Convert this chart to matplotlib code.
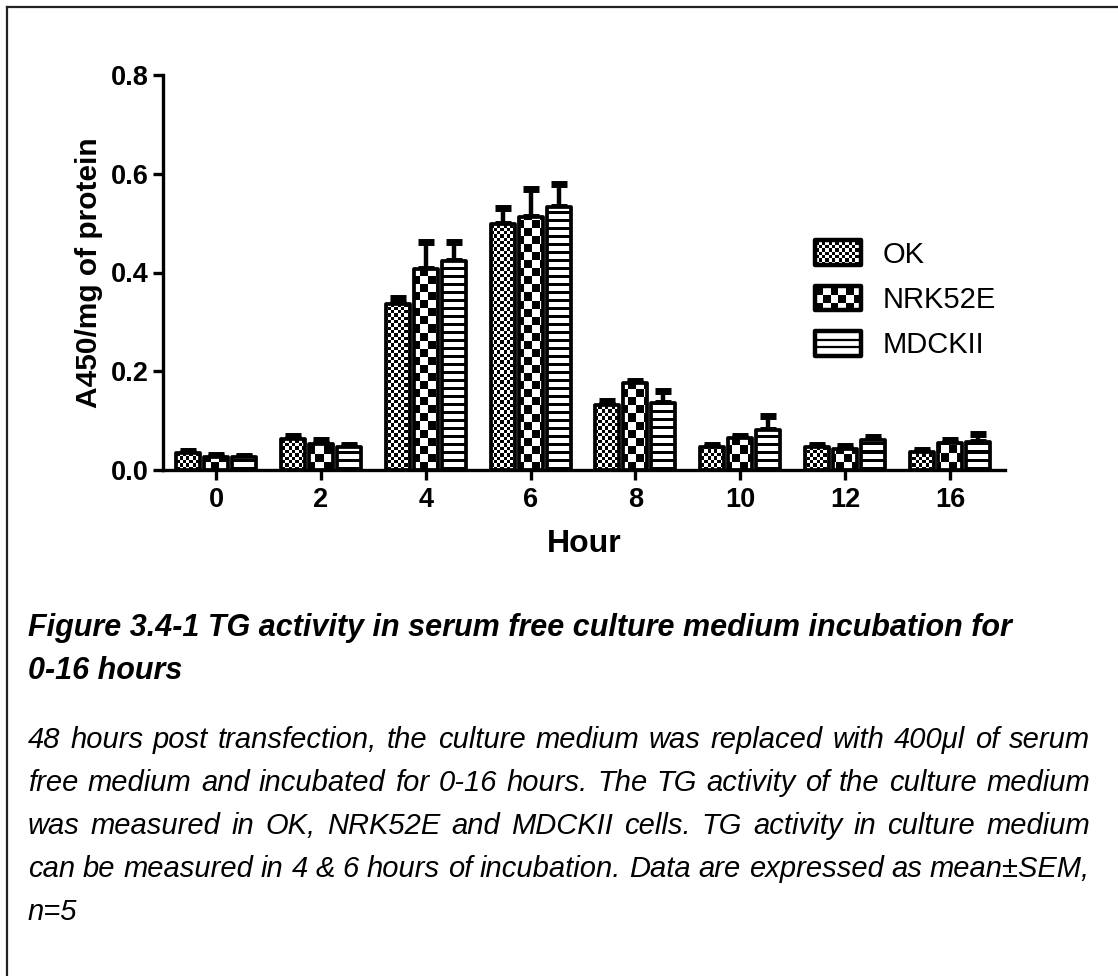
import numpy as np
import matplotlib
matplotlib.use("Agg")
import matplotlib.pyplot as plt
from matplotlib.patches import Rectangle
from matplotlib.legend_handler import HandlerBase
from matplotlib.lines import Line2D

plt.rcParams['font.family'] = ['Liberation Sans', 'DejaVu Sans']

hours = ['0', '2', '4', '6', '8', '10', '12', '16']
series = ['OK', 'NRK52E', 'MDCKII']

ok_mean = [0.035, 0.062, 0.337, 0.498, 0.132, 0.047, 0.046, 0.036]
ok_sem = [0.004, 0.007, 0.012, 0.032, 0.007, 0.004, 0.004, 0.004]
nrk_mean = [0.026, 0.052, 0.408, 0.512, 0.176, 0.064, 0.042, 0.055]
nrk_sem = [0.004, 0.008, 0.054, 0.058, 0.004, 0.005, 0.007, 0.006]
mdck_mean = [0.026, 0.046, 0.423, 0.532, 0.136, 0.082, 0.061, 0.057]
mdck_sem = [0.003, 0.004, 0.039, 0.048, 0.025, 0.027, 0.006, 0.015]

means = [ok_mean, nrk_mean, mdck_mean]
sems = [ok_sem, nrk_sem, mdck_sem]
textures = ['fine', 'coarse', 'lines']

title_lines = ['Figure 3.4-1 TG activity in serum free culture medium incubation for',
               '0-16 hours']
body_lines = ['48 hours post transfection, the culture medium was replaced with 400\u03bcl of serum',
              'free medium and incubated for 0-16 hours. The TG activity of the culture medium',
              'was measured in OK, NRK52E and MDCKII cells. TG activity in culture medium',
              'can be measured in 4 & 6 hours of incubation. Data are expressed as mean\u00b1SEM,',
              'n=5']

W, H = 1118, 976
fig = plt.figure(figsize=(W / 100, H / 100), dpi=100)
ax = fig.add_axes([163 / W, 1 - 470 / H, (1005 - 163) / W, (470 - 75) / H])

XLO, XHI = -0.505, 7.524
YLO, YHI = 0.0, 0.8


def texture(kind):
    # pixel-sized fill pattern covering the whole axes
    wpx, hpx = 842, 395
    if kind == 'lines':
        rows = np.arange(hpx)
        stripe = ((rows % 8) < 3).astype(float)
        return 1 - np.tile(stripe[:, None], (1, 4))
    s = 3.3 if kind == 'fine' else 8.0
    nx, ny = int(wpx / s), int(hpx / s)
    ii, jj = np.indices((ny, nx))
    return ((ii + jj) % 2).astype(float)


x = np.arange(len(hours))
bw = 0.228
offs = [-0.267, 0.0, 0.267]
for k in range(3):
    ax.errorbar(x + offs[k], means[k], yerr=[np.zeros(len(hours)), sems[k]], fmt='none',
                ecolor='black', elinewidth=3.2, capsize=5.5, capthick=5, zorder=2)
    bars = ax.bar(x + offs[k], means[k], bw, facecolor='none', edgecolor='black',
                  linewidth=2.7, joinstyle='round', zorder=3, label=series[k])
    tex = texture(textures[k])
    for b in bars:
        im = ax.imshow(tex, extent=(XLO, XHI, YLO, YHI), cmap='gray', vmin=0, vmax=1,
                       interpolation='nearest', aspect='auto', zorder=2.5)
        im.set_clip_path(b)

ax.set_xlim(XLO, XHI)
ax.set_ylim(YLO, YHI)
ax.set_xticks(x)
ax.set_xticklabels(hours)
ax.set_yticks([0.0, 0.2, 0.4, 0.6, 0.8])
ax.set_yticklabels(['0.0', '0.2', '0.4', '0.6', '0.8'])
for sp in ['top', 'right']:
    ax.spines[sp].set_visible(False)
for sp in ['left', 'bottom']:
    ax.spines[sp].set_linewidth(2.4)
ax.tick_params(axis='both', direction='out', length=7, width=2.4, labelsize=19.5, pad=3)
ax.tick_params(axis='x', pad=5)
for lab in ax.get_xticklabels() + ax.get_yticklabels():
    lab.set_fontweight('bold')
ax.set_xlabel('Hour', fontsize=23, fontweight='bold', labelpad=12)
ax.set_ylabel('A450/mg of protein', fontsize=21.5, fontweight='bold', labelpad=6)


class TextureHandler(HandlerBase):
    def __init__(self, kind):
        super().__init__()
        self.kind = kind

    def create_artists(self, legend, orig_handle, xdescent, ydescent, width, height,
                       fontsize, trans):
        x0, y0 = -xdescent, -ydescent
        arts = []
        if self.kind == 'lines':
            for yy in (0.36, 0.64):
                arts.append(Line2D([x0, x0 + width], [y0 + yy * height] * 2,
                                   color='black', lw=1.6, transform=trans))
        else:
            s = 2.4 if self.kind == 'fine' else 5.5
            nx, ny = int(np.ceil(width / s)), int(np.ceil(height / s))
            for i in range(nx):
                for j in range(ny):
                    if (i + j) % 2 == 0:
                        w = min(s, width - i * s)
                        h = min(s, height - j * s)
                        arts.append(Rectangle((x0 + i * s, y0 + j * s), w, h,
                                              facecolor='black', edgecolor='none',
                                              transform=trans))
        arts.append(Rectangle((x0, y0), width, height, facecolor='none',
                              edgecolor='black', lw=3.2, joinstyle='round', transform=trans))
        return arts


proxies = [Rectangle((0, 0), 1, 1) for _ in series]
ax.legend(proxies, series, handler_map={p: TextureHandler(t) for p, t in zip(proxies, textures)},
          loc='upper left', bbox_to_anchor=((795 - 163) / 842, (470 - 220) / 395),
          frameon=False, fontsize=21, handlelength=1.55, handleheight=0.92,
          handletextpad=0.75, labelspacing=0.58, borderaxespad=0.3)

# page border (top and left only)
fig.add_artist(Line2D([7 / W, 1], [1 - 7 / H] * 2, color='#222222', lw=1.6))
fig.add_artist(Line2D([7 / W] * 2, [0, 1 - 7 / H], color='#222222', lw=1.6))

# caption
ty = [636, 679]
for t, yy in zip(title_lines, ty):
    fig.text(28 / W, 1 - yy / H, t, fontsize=22, fontweight='bold', style='italic',
             va='baseline', ha='left')

renderer = fig.canvas.get_renderer()
by = [748, 791, 834, 877, 920]
left, right = 28, 1090
for n, (line, yy) in enumerate(zip(body_lines, by)):
    if n == len(body_lines) - 1:
        fig.text(left / W, 1 - yy / H, line, fontsize=21, style='italic', va='baseline')
        continue
    words = line.split(' ')
    objs = [fig.text(0, 1 - yy / H, w, fontsize=21, style='italic', va='baseline') for w in words]
    widths = [o.get_window_extent(renderer).width for o in objs]
    gap = (right - left - sum(widths)) / (len(words) - 1)
    pos = left
    for o, w in zip(objs, widths):
        o.set_x(pos / W)
        pos += w + gap

fig.savefig('out.png', dpi=100)
